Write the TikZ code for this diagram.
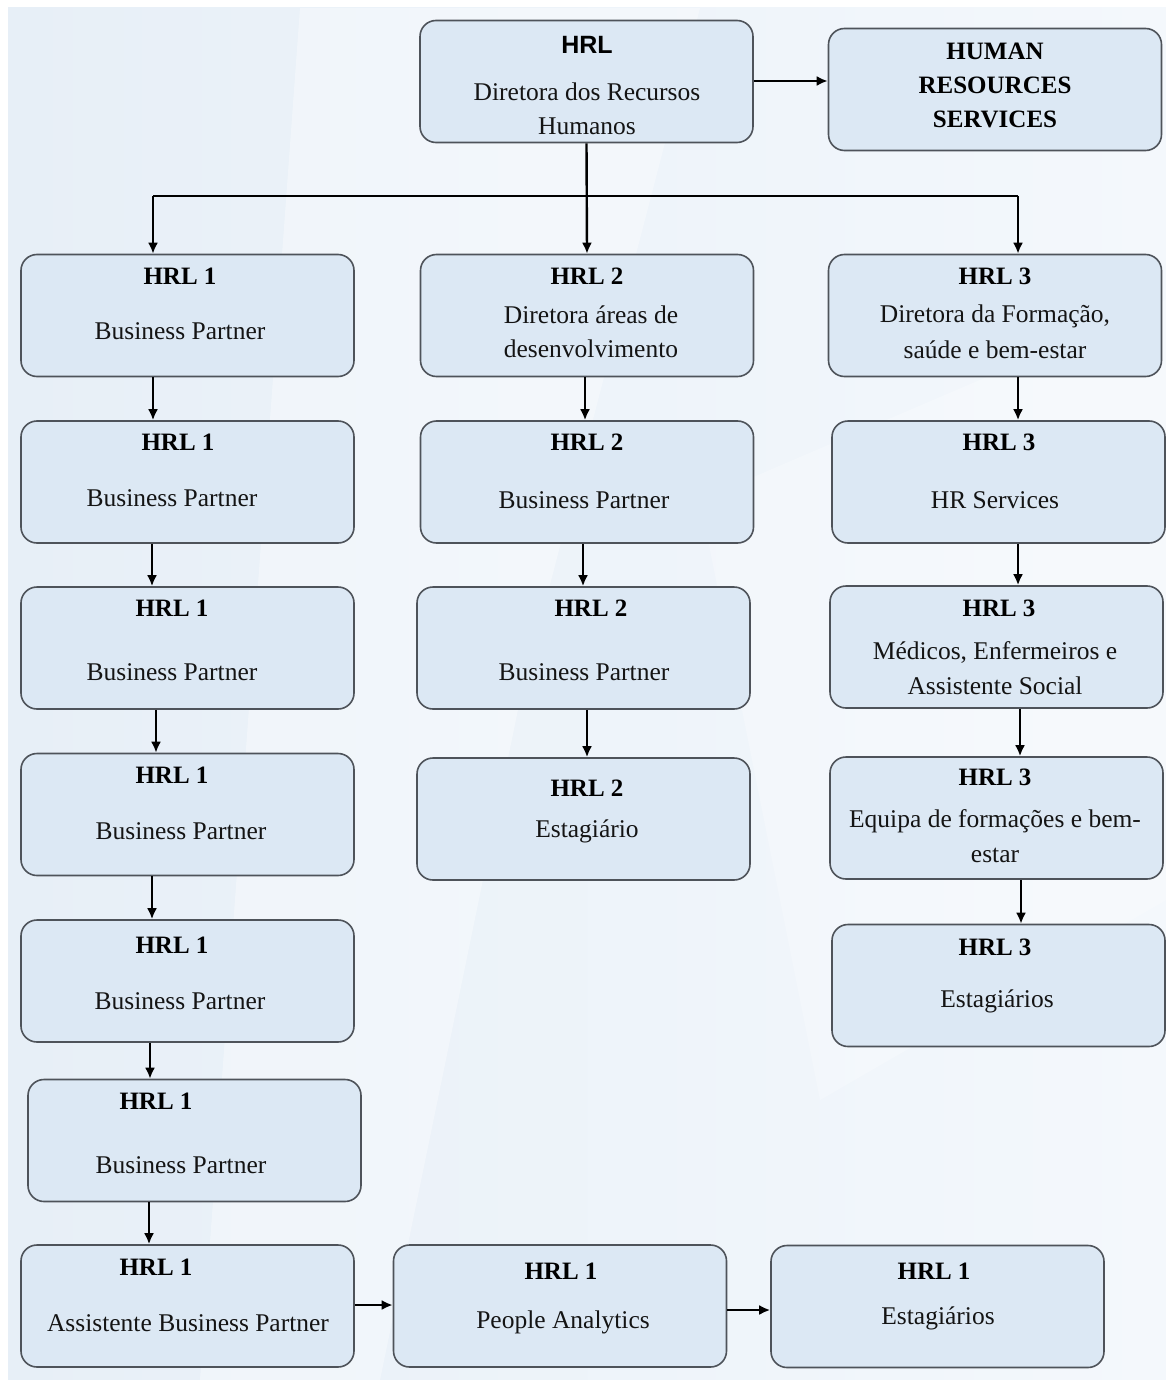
\documentclass[tikz,border=0pt]{standalone}
\usepackage{fontspec}
\setmainfont{Liberation Serif}
\newfontfamily\hsans{Liberation Sans}
\usetikzlibrary{calc,arrows.meta}
\definecolor{boxfill}{HTML}{DCE8F4}
\definecolor{boxline}{HTML}{4E535A}
\definecolor{bgA}{HTML}{E7EFF7}
\definecolor{bgB}{HTML}{F4F8FC}
\tikzset{
  box/.style={draw=boxline, fill=boxfill, line width=1.6pt, rounded corners=16pt,
    minimum width=333pt, minimum height=122pt, inner sep=0pt},
  ttl/.style={font=\fontsize{25}{34}\selectfont\bfseries, text=black, inner sep=0pt},
  txt/.style={font=\fontsize{25.5}{34}\selectfont, text=black!92, inner sep=0pt},
  arr/.style={-{Latex[length=11pt,width=10pt]}, line width=2.4pt, black}
}
\newcommand{\varr}[3]{\draw[arr] let \p1=(#2.south), \p2=(#3.north) in (#1,\y1) -- (#1,\y2);}
\begin{document}
\begin{tikzpicture}[x=1pt,y=-1pt]
\useasboundingbox (0,0) rectangle (1166,1380);
\fill[white] (0,0) rectangle (1166,1380);
\shade[left color=bgA, right color=bgB] (8,8) rectangle (1166,1380);
\fill[white, opacity=0.35] (300,8) -- (700,8) -- (520,700) -- (380,1380) -- (200,1380) -- cycle;
\fill[white, opacity=0.25] (700,500) -- (1166,300) -- (1166,900) -- (820,1100) -- cycle;

% boxes
\node[box] (top) at (586.5,81.5) {};
\node[box] (hrs) at (995,89.5) {};
\node[box] (l1) at (187.5,315.5) {};
\node[box] (m1) at (587,315.5) {};
\node[box] (r1) at (995,315.5) {};
\node[box] (l2) at (187.5,482) {};
\node[box] (m2) at (587,482) {};
\node[box] (r2) at (998.5,482) {};
\node[box] (l3) at (187.5,648) {};
\node[box] (m3) at (583.5,648) {};
\node[box] (r3) at (996.5,647) {};
\node[box] (l4) at (187.5,814.5) {};
\node[box] (m4) at (583.5,819) {};
\node[box] (r4) at (996.5,818) {};
\node[box] (l5) at (187.5,981) {};
\node[box] (r5) at (998.5,985.5) {};
\node[box] (l6) at (194.5,1140.5) {};
\node[box] (l7) at (187.5,1306) {};
\node[box] (m7) at (560,1306) {};
\node[box] (r7) at (937.5,1306.5) {};

% texts
\node[font=\hsans\fontsize{25}{34}\selectfont\bfseries, inner sep=0pt] (t0) at (587,45) {HRL};
\node[txt] at (587,92) {Diretora dos Recursos};
\node[txt] at (587,126) {Humanos};
\node[ttl] at (995,51) {HUMAN};
\node[ttl] at (995,85) {RESOURCES};
\node[ttl] at (995,119) {SERVICES};

\node[ttl] at (180,276) {HRL 1};
\node[txt] at (180,331) {Business Partner};
\node[ttl] at (587,276) {HRL 2};
\node[txt] at (591,315) {Diretora áreas de};
\node[txt] at (591,349) {desenvolvimento};
\node[ttl] at (995,276) {HRL 3};
\node[txt] at (995,316) {Diretora da Formação,};
\node[txt] at (995,350) {saúde e bem-estar};

\node[ttl] at (178,442) {HRL 1};
\node[txt] at (172,498) {Business Partner};
\node[ttl] at (587,442) {HRL 2};
\node[txt] at (584,500) {Business Partner};
\node[ttl] at (999,442) {HRL 3};
\node[txt] at (995,500) {HR Services};

\node[ttl] at (172,608) {HRL 1};
\node[txt] at (172,672) {Business Partner};
\node[ttl] at (591,608) {HRL 2};
\node[txt] at (584,672) {Business Partner};
\node[ttl] at (999,608) {HRL 3};
\node[txt] at (995,652) {Médicos, Enfermeiros e};
\node[txt] at (995,686) {Assistente Social};

\node[ttl] at (172,775) {HRL 1};
\node[txt] at (181,831) {Business Partner};
\node[ttl] at (587,788) {HRL 2};
\node[txt] at (587,831) {Estagiário};
\node[ttl] at (995,777) {HRL 3};
\node[txt] at (995,821) {Equipa de formações e bem-};
\node[txt] at (995,855) {estar};

\node[ttl] at (172,945) {HRL 1};
\node[txt] at (180,1001) {Business Partner};
\node[ttl] at (995,947) {HRL 3};
\node[txt] at (997,1001) {Estagiários};

\node[ttl] at (156,1101) {HRL 1};
\node[txt] at (181,1165) {Business Partner};

\node[ttl] at (156,1267) {HRL 1};
\node[txt] at (188,1323) {Assistente Business Partner};
\node[ttl] at (561,1271) {HRL 1};
\node[txt] at (563,1322) {People Analytics};
\node[ttl] at (934,1271) {HRL 1};
\node[txt] at (938,1318) {Estagiários};

% connectors
\draw[arr] let \p1=(top.east), \p2=(hrs.west) in (\x1,81) -- (\x2,81);
\coordinate (j) at (587,196);
\draw[arr] (top.south) -- (m1.north);
\draw[line width=2.4pt] (153,196) -- (1018,196);
\varr{153}{j}{l1}
\varr{1018}{j}{r1}

\varr{153}{l1}{l2}
\varr{152}{l2}{l3}
\varr{156}{l3}{l4}
\varr{152}{l4}{l5}
\varr{150}{l5}{l6}
\varr{149}{l6}{l7}

\varr{585}{m1}{m2}
\varr{583}{m2}{m3}
\varr{587}{m3}{m4}

\varr{1018}{r1}{r2}
\varr{1018}{r2}{r3}
\varr{1020}{r3}{r4}
\varr{1021}{r4}{r5}

\draw[arr] let \p1=(l7.east), \p2=(m7.west) in (\x1,1305) -- (\x2,1305);
\draw[arr] let \p1=(m7.east), \p2=(r7.west) in (\x1,1310) -- (\x2,1310);
\end{tikzpicture}
\end{document}
